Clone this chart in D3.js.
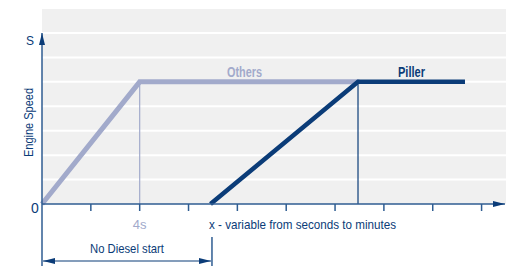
<!DOCTYPE html>
<html lang="en">
  <head>
    <meta charset="UTF-8">
    <style>
      body { margin: 0; background: #ffffff; }
      text { font-family: "Liberation Sans", Arial, sans-serif; }
    </style>
    <script src="https://d3js.org/d3.v7.min.js"></script>
  </head>
  <body>
    <div id="chart"></div>
    <script>
      // data (x in tick units, y in grid units)
      const others = [[0, 0], [2, 5], [6.5, 5]];
      const piller = [[3.45, 0], [6.47, 5], [8.66, 5]];
      const xTicks = [1, 2, 3, 4, 5, 6, 7, 8, 9];
      const yGrid = [1, 2, 3, 4, 5, 6, 7];
      const markerX = [2, 6.47];
      const noDiesel = [0, 3.48];

      const dark = "#0b3c78", light = "#a2aacb", axisCol = "#2f5d92";

      const svg = d3.select("#chart").append("svg")
        .attr("width", 506).attr("height", 266);

      const x = d3.scaleLinear().domain([0, 9.5]).range([42, 506]);
      const y = d3.scaleLinear().domain([0, 7]).range([204, 33]);

      const defs = svg.append("defs");
      defs.append("marker").attr("id", "ah")
        .attr("viewBox", "0 0 12 6").attr("refX", 12).attr("refY", 3)
        .attr("markerWidth", 12).attr("markerHeight", 6)
        .attr("markerUnits", "userSpaceOnUse").attr("orient", "auto-start-reverse")
        .append("path").attr("d", "M0,0L12,3L0,6Z").attr("fill", dark);

      // grey panel + white grid
      svg.append("rect").attr("x", 42).attr("y", 9)
        .attr("width", 464).attr("height", 195).attr("fill", "#f0f0f0");
      svg.selectAll(".grid").data(yGrid).enter().append("line")
        .attr("x1", 42).attr("x2", 506)
        .attr("y1", d => y(d)).attr("y2", d => y(d))
        .attr("stroke", "#ffffff").attr("stroke-width", 2);

      // vertical markers
      svg.append("line").attr("x1", x(markerX[0])).attr("x2", x(markerX[0]))
        .attr("y1", y(5)).attr("y2", y(0)).attr("stroke", light).attr("stroke-width", 1.2);
      svg.append("line").attr("x1", x(markerX[1])).attr("x2", x(markerX[1]))
        .attr("y1", y(5)).attr("y2", y(0)).attr("stroke", dark).attr("stroke-width", 1.2);

      const line = d3.line().x(d => x(d[0])).y(d => y(d[1]));
      svg.append("path").attr("d", line(others)).attr("fill", "none")
        .attr("stroke", light).attr("stroke-width", 5);
      svg.append("path").attr("d", line(piller)).attr("fill", "none")
        .attr("stroke", dark).attr("stroke-width", 4.5);

      // axes
      svg.append("line").attr("x1", 42).attr("x2", 505).attr("y1", 204).attr("y2", 204)
        .attr("stroke", axisCol).attr("stroke-width", 1.5).attr("marker-end", "url(#ah)");
      svg.append("line").attr("x1", 42).attr("x2", 42).attr("y1", 266).attr("y2", 33)
        .attr("stroke", axisCol).attr("stroke-width", 1.5).attr("marker-end", "url(#ah)");
      svg.selectAll(".tick").data(xTicks).enter().append("line")
        .attr("x1", d => x(d)).attr("x2", d => x(d))
        .attr("y1", 204).attr("y2", 211)
        .attr("stroke", axisCol).attr("stroke-width", 1.5);

      // labels
      svg.append("text").attr("x", 30).attr("y", 45).attr("text-anchor", "middle")
        .attr("font-size", 12).attr("fill", dark).text("S");
      svg.append("text").attr("x", 35).attr("y", 213).attr("text-anchor", "middle")
        .attr("font-size", 14).attr("fill", dark).text("0");
      svg.append("text").attr("transform", "translate(33,122.5) rotate(-90)")
        .attr("text-anchor", "middle").attr("font-size", 13).attr("fill", dark)
        .attr("textLength", 69).attr("lengthAdjust", "spacingAndGlyphs").text("Engine Speed");
      svg.append("text").attr("x", x(markerX[0])).attr("y", 229).attr("text-anchor", "middle")
        .attr("font-size", 13).attr("fill", light).text("4s");
      svg.append("text").attr("x", 209).attr("y", 229)
        .attr("font-size", 13).attr("fill", dark)
        .attr("textLength", 187).attr("lengthAdjust", "spacingAndGlyphs")
        .text("x - variable from seconds to minutes");
      svg.append("text").attr("x", 227).attr("y", 77)
        .attr("font-size", 14).attr("font-weight", "bold").attr("fill", light)
        .attr("textLength", 35).attr("lengthAdjust", "spacingAndGlyphs").text("Others");
      svg.append("text").attr("x", 398).attr("y", 77)
        .attr("font-size", 14).attr("font-weight", "bold").attr("fill", dark)
        .attr("textLength", 27).attr("lengthAdjust", "spacingAndGlyphs").text("Piller");

      // no diesel start span
      svg.append("line").attr("x1", x(noDiesel[1])).attr("x2", x(noDiesel[1]))
        .attr("y1", 237).attr("y2", 266).attr("stroke", axisCol).attr("stroke-width", 1.5);
      svg.append("line").attr("x1", x(noDiesel[0]) + 1).attr("x2", x(noDiesel[1]) - 1)
        .attr("y1", 261).attr("y2", 261).attr("stroke", dark).attr("stroke-width", 1.2)
        .attr("marker-start", "url(#ah)").attr("marker-end", "url(#ah)");
      svg.append("text").attr("x", (x(noDiesel[0]) + x(noDiesel[1])) / 2).attr("y", 253)
        .attr("text-anchor", "middle").attr("font-size", 13).attr("fill", dark)
        .attr("textLength", 74).attr("lengthAdjust", "spacingAndGlyphs").text("No Diesel start");
    </script>
  </body>
</html>
